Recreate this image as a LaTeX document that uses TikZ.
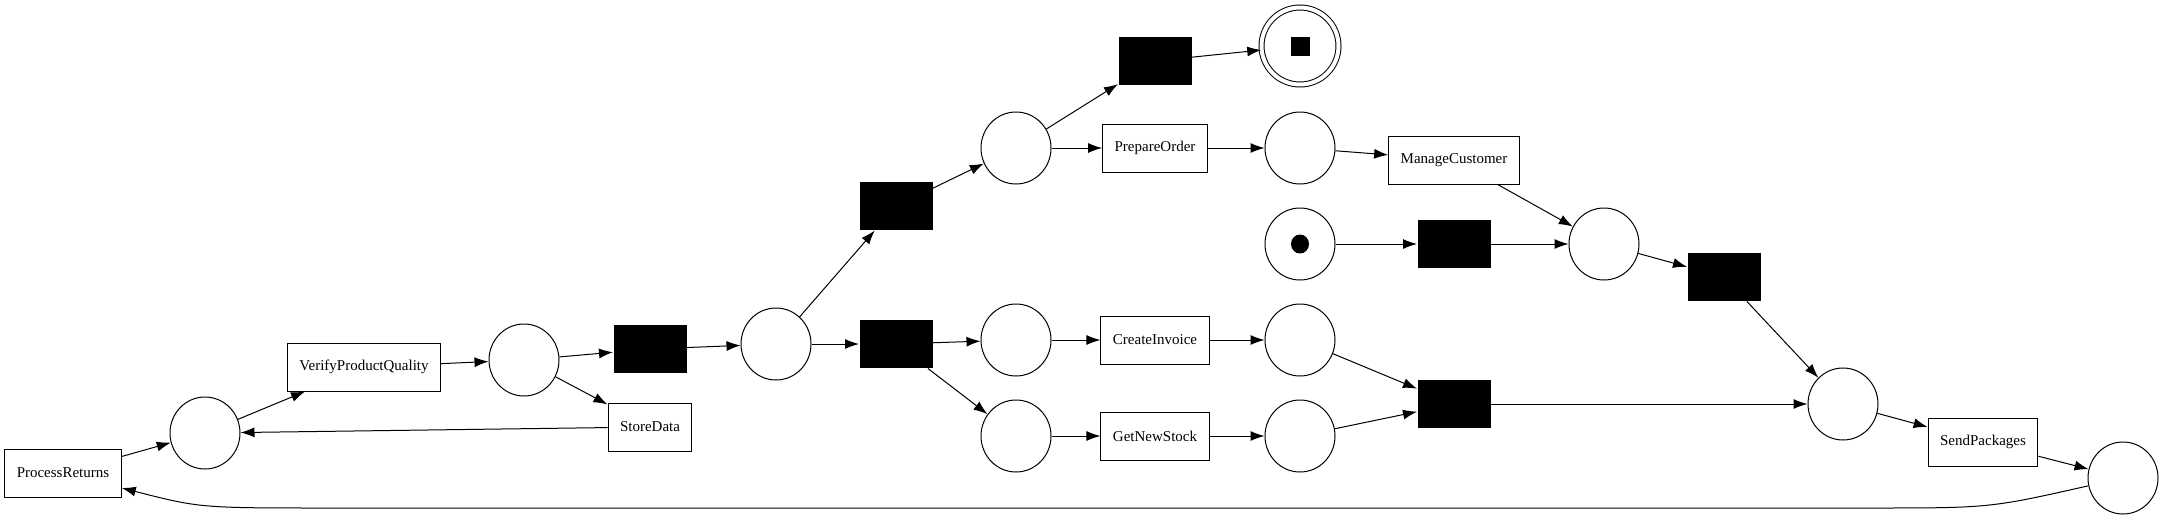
\documentclass[tikz,border=0pt]{standalone}
\usepackage{fontspec}
\setmainfont{Liberation Serif}
\usetikzlibrary{arrows.meta,shapes.geometric}

\begin{document}
\begin{tikzpicture}[
  x=1pt, y=-1pt, line width=1pt,
  place/.style={draw, ellipse, minimum width=70pt, minimum height=72pt, inner sep=0pt},
  task/.style={draw, rectangle, minimum height=48pt, inner xsep=12pt, font=\fontsize{15}{18}\selectfont},
  silent/.style={fill=black, rectangle, minimum width=73pt, minimum height=48pt, inner sep=0pt},
  arc/.style={-{Latex[length=14pt,width=10pt]}}
]
\useasboundingbox (0,0) rectangle (2164,520);

\node[task] (pr) at (63,473) {ProcessReturns};
\node[place] (p1) at (205,433) {};
\node[task] (vpq) at (364,367) {VerifyProductQuality};
\node[place] (p2) at (524,360) {};
\node[silent] (t1) at (650,349) {};
\node[task] (sd) at (650,427) {StoreData};
\node[place] (p3) at (776,344) {};
\node[silent] (t2) at (896,344) {};
\node[silent] (t7) at (896,206) {};

\node[place] (p11) at (1016,148) {};
\node[task] (po) at (1155,148) {PrepareOrder};
\node[place] (p12) at (1300,148) {};
\node[task] (mc) at (1454,160) {ManageCustomer};
\node[silent] (t6) at (1155,61) {};
\node[draw, circle, double, double distance=4pt, minimum size=77pt] (end) at (1300,46) {};
\node[fill=black, minimum size=19pt, inner sep=0pt] (endtok) at (end) {};

\node[place] (p4) at (1016,340) {};
\node[task] (ci) at (1155,340) {CreateInvoice};
\node[place] (p5) at (1300,340) {};
\node[place] (p6) at (1016,436) {};
\node[task] (gns) at (1155,436) {GetNewStock};
\node[place] (p7) at (1300,436) {};
\node[silent] (t3) at (1454,404) {};

\node[place] (pstart) at (1300,244) {};
\node[fill=black, ellipse, minimum width=18pt, minimum height=19pt, inner sep=0pt] (tok) at (pstart) {};
\node[silent] (t4) at (1454,244) {};
\node[place] (p8) at (1604,244) {};
\node[silent] (t5) at (1724,277) {};
\node[place] (p9) at (1843,404) {};
\node[task] (sp) at (1983,442) {SendPackages};
\node[place] (p10) at (2123,478) {};

\coordinate (bendR) at (1870,508);
\coordinate (bendL) at (330,508);

\draw[arc] (pr) -- (p1);
\draw[arc] (p1) -- (vpq);
\draw[arc] (vpq) -- (p2);
\draw[arc] (p2) -- (t1);
\draw[arc] (p2) -- (sd);
\draw[arc] (sd) -- (p1);
\draw[arc] (t1) -- (p3);
\draw[arc] (p3) -- (t2);
\draw[arc] (p3) -- (t7);
\draw[arc] (t7) -- (p11);
\draw[arc] (p11) -- (t6);
\draw[arc] (t6) -- (end);
\draw[arc] (p11) -- (po);
\draw[arc] (po) -- (p12);
\draw[arc] (p12) -- (mc);
\draw[arc] (mc) -- (p8);
\draw[arc] (pstart) -- (t4);
\draw[arc] (t4) -- (p8);
\draw[arc] (p8) -- (t5);
\draw[arc] (t5) -- (p9);
\draw[arc] (t2) -- (p4);
\draw[arc] (t2) -- (p6);
\draw[arc] (p4) -- (ci);
\draw[arc] (ci) -- (p5);
\draw[arc] (p5) -- (t3);
\draw[arc] (p6) -- (gns);
\draw[arc] (gns) -- (p7);
\draw[arc] (p7) -- (t3);
\draw[arc] (t3) -- (p9);
\draw[arc] (p9) -- (sp);
\draw[arc] (sp) -- (p10);
\draw[arc] (p10) .. controls (1990,508) .. (bendR) -- (bendL) .. controls (200,508) .. (pr);
\end{tikzpicture}
\end{document}
